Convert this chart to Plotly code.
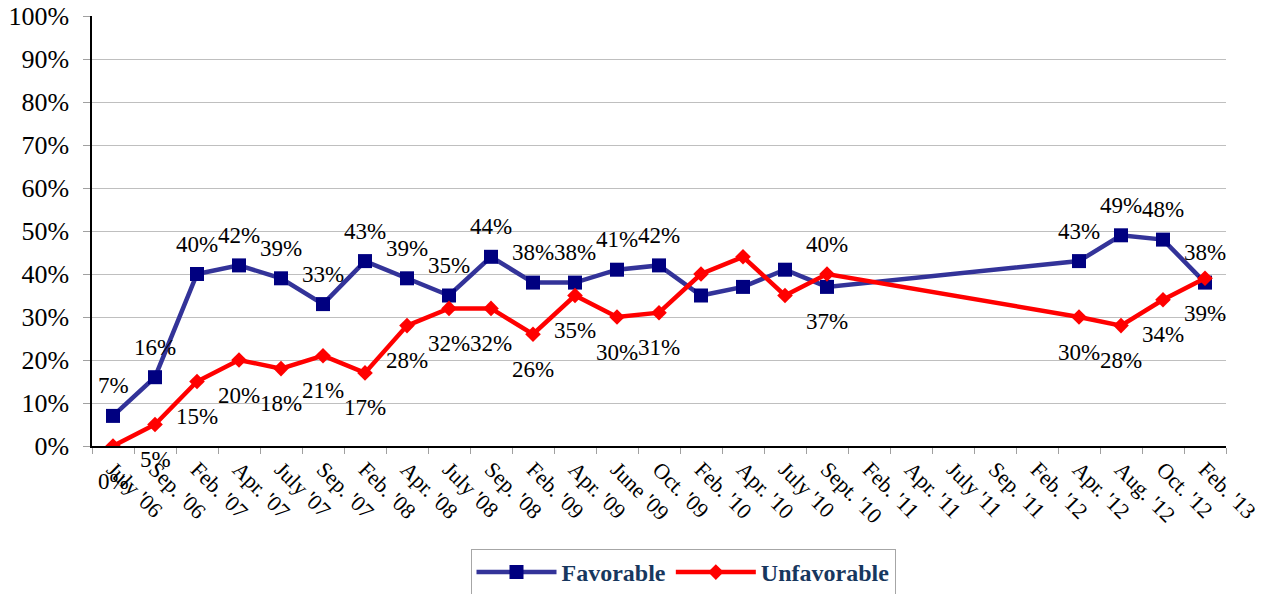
import plotly.graph_objects as go

categories = ["July '06", "Sep. '06", "Feb. '07", "Apr. '07", "July '07", "Sep. '07",
              "Feb. '08", "Apr. '08", "July '08", "Sep. '08", "Feb. '09", "Apr. '09",
              "June '09", "Oct. '09", "Feb. '10", "Apr. '10", "July '10", "Sept. '10",
              "Feb. '11", "Apr. '11", "July '11", "Sep. '11", "Feb. '12", "Apr. '12",
              "Aug. '12", "Oct. '12", "Feb. '13"]

favorable = [7, 16, 40, 42, 39, 33, 43, 39, 35, 44, 38, 38, 41, 42, 35, 37, 41, 37,
             None, None, None, None, None, 43, 49, 48, 38]
unfavorable = [0, 5, 15, 20, 18, 21, 17, 28, 32, 32, 26, 35, 30, 31, 40, 44, 35, 40,
               None, None, None, None, None, 30, 28, 34, 39]

# label placement per point: "a" above, "b" below, None = no label
fav_label_pos = ["a"] * 14 + [None, None, None, "b"] + [None] * 5 + ["a", "a", "a", "a"]
unf_label_pos = ["b"] * 14 + [None, None, None, "a"] + [None] * 5 + ["b", "b", "b", "b"]

SERIF = "Liberation Serif"

W, H = 1268, 594

fig = go.Figure()
fig.add_trace(go.Scatter(
    x=categories, y=favorable, name="Favorable", mode="lines+markers",
    connectgaps=True,
    line=dict(color="#333399", width=4.5),
    marker=dict(symbol="square", size=14, color="#000080", line=dict(width=0)),
))
fig.add_trace(go.Scatter(
    x=categories, y=unfavorable, name="Unfavorable", mode="lines+markers",
    connectgaps=True,
    line=dict(color="#FF0000", width=4.5),
    marker=dict(symbol="diamond", size=12, color="#FF0000", line=dict(width=0)),
))

annotations = []
for vals, poss in ((favorable, fav_label_pos), (unfavorable, unf_label_pos)):
    for cat, v, p in zip(categories, vals, poss):
        if v is None or p is None:
            continue
        annotations.append(dict(
            x=cat, y=v, xref="x", yref="y", text=f"{v}%", showarrow=False,
            yshift=30 if p == "a" else -35,
            font=dict(family=SERIF, size=23, color="#000000"),
        ))

fig.update_layout(
    width=W, height=H,
    margin=dict(l=92, r=42, t=16, b=148, autoexpand=False),
    paper_bgcolor="white", plot_bgcolor="white",
    annotations=annotations,
    showlegend=True,
    legend=dict(
        orientation="h", xref="container", yref="container",
        x=683 / W, xanchor="center", y=1 - 549 / H, yanchor="top",
        bordercolor="#A6A6A6", borderwidth=1, bgcolor="white",
        font=dict(family=SERIF, size=24, color="#17375E", weight="bold"),
        itemwidth=80,
    ),
    xaxis=dict(
        type="category", tickangle=45, tickson="boundaries", automargin=False,
        showline=True, linecolor="#000000", linewidth=1.5,
        ticks="outside", ticklen=6, tickcolor="#A0A0A0",
        showgrid=False, ticklabeloverflow="allow",
        tickfont=dict(family=SERIF, size=22, color="#000000"),
        range=[-0.5, len(categories) - 0.5],
    ),
    yaxis=dict(
        range=[0, 100], dtick=10, ticksuffix="%", automargin=False,
        showline=True, linecolor="#000000", linewidth=1.5,
        ticks="outside", ticklen=7, tickcolor="#A0A0A0",
        showgrid=True, gridcolor="#BFBFBF", gridwidth=1,
        zeroline=False, ticklabelstandoff=9, ticklabeloverflow="allow",
        tickfont=dict(family=SERIF, size=26, color="#000000"),
    ),
)

# remove the default 8px page margin so the figure fills the window exactly
fig.write_html("out.html", config={"displayModeBar": False},
               post_script="document.body.style.margin='0';")
